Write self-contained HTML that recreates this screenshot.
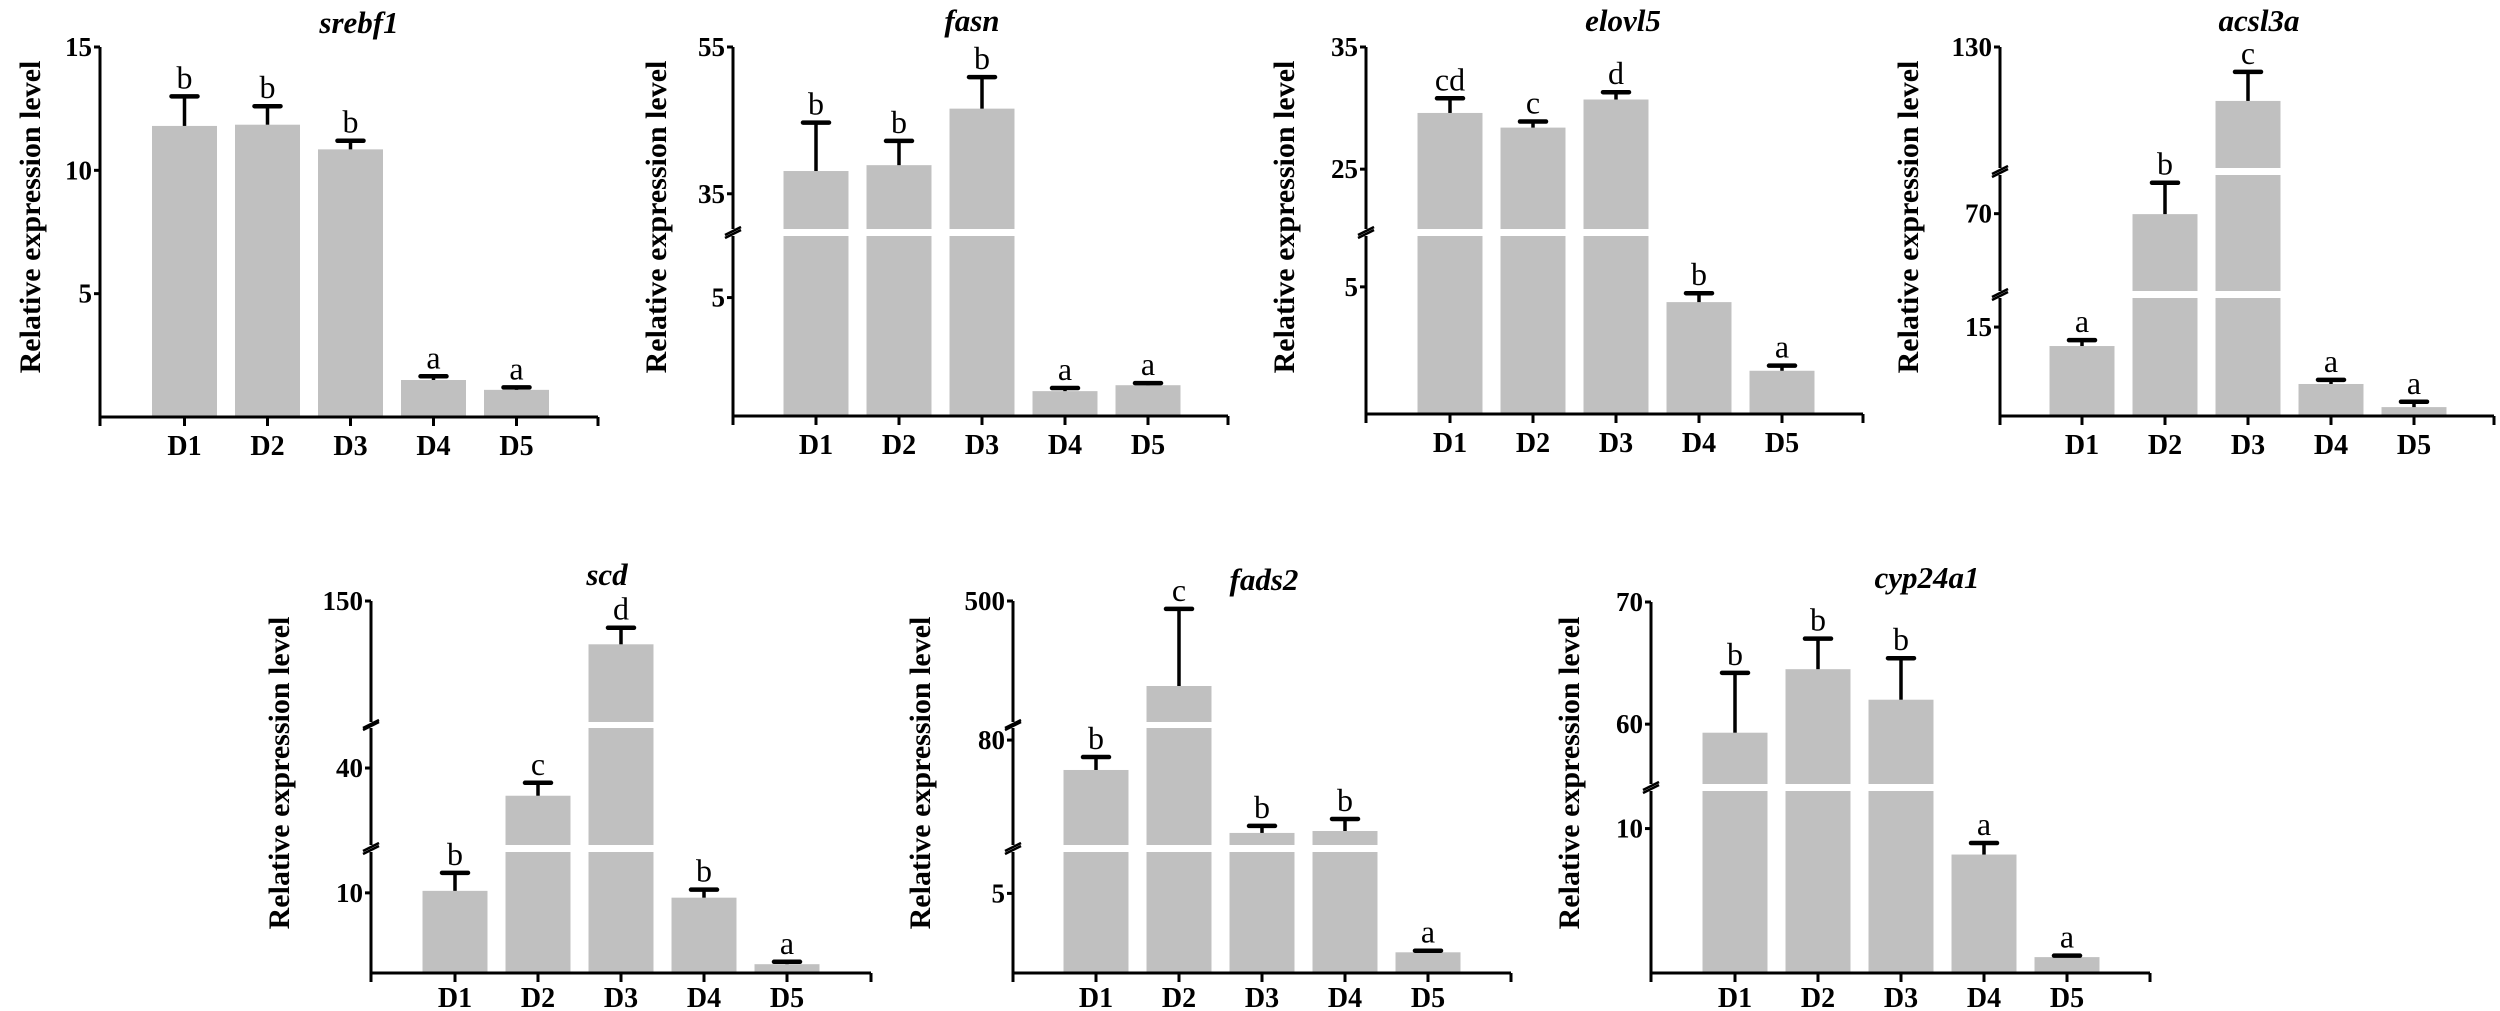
<!DOCTYPE html>
<html><head><meta charset="utf-8"><style>
html,body{margin:0;padding:0;background:#fff;}
svg{display:block;}
text{font-family:"Liberation Serif","Times New Roman",serif;}
</style></head><body>
<svg id="fig" width="2500" height="1011" viewBox="0 0 2500 1011" xmlns="http://www.w3.org/2000/svg"></svg>
<script>
// ---- data ----
const categories = ["D1","D2","D3","D4","D5"];
const srebf1Values = [11.8, 11.85, 10.85, 1.5, 1.1];
const srebf1Errors = [1.2, 0.75, 0.35, 0.15, 0.1];
const srebf1Letters = ["b","b","b","a","a"];
const srebf1Ticks = [5, 10, 15];

const fasnValues = [38.1, 38.9, 46.6, 1.05, 1.3];
const fasnErrors = [6.6, 3.3, 4.3, 0.13, 0.09];
const fasnLetters = ["b","b","b","a","a"];
const fasnTicks = [5, 35, 55];

const elovl5Values = [29.6, 28.4, 30.7, 4.4, 1.7];
const elovl5Errors = [1.2, 0.5, 0.6, 0.35, 0.2];
const elovl5Letters = ["cd","c","d","b","a"];
const elovl5Ticks = [5, 25, 35];

const acsl3aValues = [11.8, 69.7, 114.4, 5.4, 1.5];
const acsl3aErrors = [1.0, 20.3, 8.4, 0.7, 0.9];
const acsl3aLetters = ["a","b","c","a","a"];
const acsl3aTicks = [15, 70, 130];

const scdValues = [10.25, 31.0, 116, 9.4, 1.1];
const scdErrors = [2.25, 4.2, 13, 1.0, 0.3];
const scdLetters = ["b","c","d","b","a"];
const scdTicks = [10, 40, 150];

const fads2Values = [62.9, 219, 26.9, 28, 1.3];
const fads2Errors = [7.4, 255, 4.0, 6.9, 0.1];
const fads2Letters = ["b","c","b","b","a"];
const fads2Ticks = [5, 80, 500];

const cypValues = [59.3, 64.5, 62.0, 8.2, 1.1];
const cypErrors = [4.9, 2.5, 3.4, 0.8, 0.1];
const cypLetters = ["b","b","b","a","a"];
const cypTicks = [10, 60, 70];

// ---- layout ----
const panels = [
 {id:"srebf1", title:"srebf1", vals:srebf1Values, errs:srebf1Errors, letters:srebf1Letters, ticks:srebf1Ticks,
  ax:100, axEnd:598, base:417, x0:184.5, tx:359, ty:33, lx:30, ly:217, lab:38,
  segs:[{v0:0,v1:15,yb:417,yt:47}]},
 {id:"fasn", title:"fasn", vals:fasnValues, errs:fasnErrors, letters:fasnLetters, ticks:fasnTicks,
  ax:733, axEnd:1228, base:416, x0:816, tx:972, ty:31, lx:656, ly:217, lab:38,
  segs:[{v0:0,v1:7.6,yb:416,yt:236},{v0:30.2,v1:55,yb:229,yt:47}]},
 {id:"elovl5", title:"elovl5", vals:elovl5Values, errs:elovl5Errors, letters:elovl5Letters, ticks:elovl5Ticks,
  ax:1366, axEnd:1863, base:414, x0:1450, tx:1623, ty:31, lx:1284, ly:217, lab:38,
  segs:[{v0:0,v1:7,yb:414,yt:236},{v0:20.1,v1:35,yb:229,yt:47}]},
 {id:"acsl3a", title:"acsl3a", vals:acsl3aValues, errs:acsl3aErrors, letters:acsl3aLetters, ticks:acsl3aTicks,
  ax:2000, axEnd:2494, base:416, x0:2082, tx:2259, ty:31, lx:1908, ly:217, lab:38,
  segs:[{v0:0,v1:19.9,yb:416,yt:298},{v0:20,v1:95,yb:291,yt:175},{v0:95,v1:130,yb:168,yt:47}]},
 {id:"scd", title:"scd", vals:scdValues, errs:scdErrors, letters:scdLetters, ticks:scdTicks,
  ax:371, axEnd:871, base:973, x0:455, tx:607, ty:585, lx:279, ly:773, lab:34,
  segs:[{v0:0,v1:15.1,yb:973,yt:852},{v0:15,v1:53,yb:845,yt:728},{v0:55,v1:150,yb:722,yt:601}]},
 {id:"fads2", title:"fads2", vals:fads2Values, errs:fads2Errors, letters:fads2Letters, ticks:fads2Ticks,
  ax:1013, axEnd:1511, base:973, x0:1096, tx:1264, ty:590, lx:920, ly:773, lab:34,
  segs:[{v0:0,v1:7.6,yb:973,yt:852},{v0:20,v1:86.9,yb:845,yt:728},{v0:100,v1:500,yb:722,yt:601}]},
 {id:"cyp24a1", title:"cyp24a1", vals:cypValues, errs:cypErrors, letters:cypLetters, ticks:cypTicks,
  ax:1651, axEnd:2150, base:973, x0:1735, tx:1927, ty:588, lx:1569, ly:773, lab:34,
  segs:[{v0:0,v1:12.6,yb:973,yt:791},{v0:55.1,v1:70,yb:784,yt:602}]}
];
const STEP = 83, BARW = 65, CAP = 13;
const NS = "http://www.w3.org/2000/svg";
const svg = document.getElementById("fig");
function mk(tag, attrs, parent){ const e=document.createElementNS(NS,tag); for(const k in attrs) e.setAttribute(k,attrs[k]); (parent||svg).appendChild(e); return e; }

function yScale(p, v){
  const segs=p.segs;
  for(let i=0;i<segs.length;i++){
    const s=segs[i];
    if(v<=s.v1 || i===segs.length-1){
      const vv=Math.max(v,s.v0);
      return s.yb-(vv-s.v0)*(s.yb-s.yt)/(s.v1-s.v0);
    }
  }
}
function xScale(p, i){ return p.x0 + i*STEP; }

panels.forEach(p=>{
  const g = mk("g",{});
  
  
  p.vals.forEach((v,i)=>{
    const cx=xScale(p,i);
    p.segs.forEach(s=>{
      if(v<=s.v0 && s.v0>0) return;
      const top = v>=s.v1 ? s.yt : yScale(p,v);
      const r = mk("rect",{x:cx-BARW/2,y:top,width:BARW,height:Math.max(0,s.yb-top),fill:"#c0c0c0"},g);
      
      
    });
    const yt=yScale(p,v), ye=yScale(p,v+p.errs[i]);
    const eg=mk("g",{stroke:"#000","stroke-width":3.5},g);
    
    
    mk("line",{x1:cx,y1:yt,x2:cx,y2:ye},eg);
    mk("line",{x1:cx-CAP,y1:ye,x2:cx+CAP,y2:ye,"stroke-width":4.5,"stroke-linecap":"round"},eg);
    const lt=mk("text",{x:cx,y:ye-8,"text-anchor":"middle","font-size":32},g);
    lt.textContent=p.letters[i];
    
    
    mk("line",{x1:cx,y1:p.base,x2:cx,y2:p.base+9,stroke:"#000","stroke-width":3},g);
    const xl=mk("text",{x:cx,y:p.base+p.lab,"text-anchor":"middle","font-size":28,"font-weight":"bold"},g);
    xl.textContent=categories[i];
    
    
  });
  p.segs.forEach((s,k)=>{
    const ybot = k===0 ? p.base+1.5 : s.yb;
    mk("line",{x1:p.ax,y1:ybot,x2:p.ax,y2:s.yt,stroke:"#000","stroke-width":3},g);
    if(k>0){
      const prev=p.segs[k-1];
      mk("line",{x1:p.ax-8,y1:prev.yt+2,x2:p.ax+8,y2:prev.yt-6,stroke:"#000","stroke-width":2.5},g);
      mk("line",{x1:p.ax-8,y1:s.yb+6,x2:p.ax+8,y2:s.yb-2,stroke:"#000","stroke-width":2.5},g);
    }
  });
  const xa=mk("line",{x1:p.ax-1.5,y1:p.base,x2:p.axEnd,y2:p.base,stroke:"#000","stroke-width":3},g);
  
  
  mk("line",{x1:p.ax,y1:p.base,x2:p.ax,y2:p.base+9,stroke:"#000","stroke-width":3},g);
  mk("line",{x1:p.axEnd,y1:p.base,x2:p.axEnd,y2:p.base+9,stroke:"#000","stroke-width":3},g);
  p.ticks.forEach(t=>{
    const y=yScale(p,t);
    mk("line",{x1:p.ax-6,y1:y,x2:p.ax,y2:y,stroke:"#000","stroke-width":3},g);
    const tl=mk("text",{x:p.ax-8,y:y+9,"text-anchor":"end","font-size":27,"font-weight":"bold"},g);
    tl.textContent=String(t);
    
    
  });
  const tt=mk("text",{x:p.tx,y:p.ty,"text-anchor":"middle","font-size":31,"font-weight":"bold","font-style":"italic"},g);
  tt.textContent=p.title;
  
  
  const yl=mk("text",{x:0,y:0,"text-anchor":"middle","font-size":30,"font-weight":"bold",transform:"translate("+(p.lx+10)+","+p.ly+") rotate(-90)"},g);
  yl.textContent="Relative expression level";
  
  
});
</script>
</body></html>
